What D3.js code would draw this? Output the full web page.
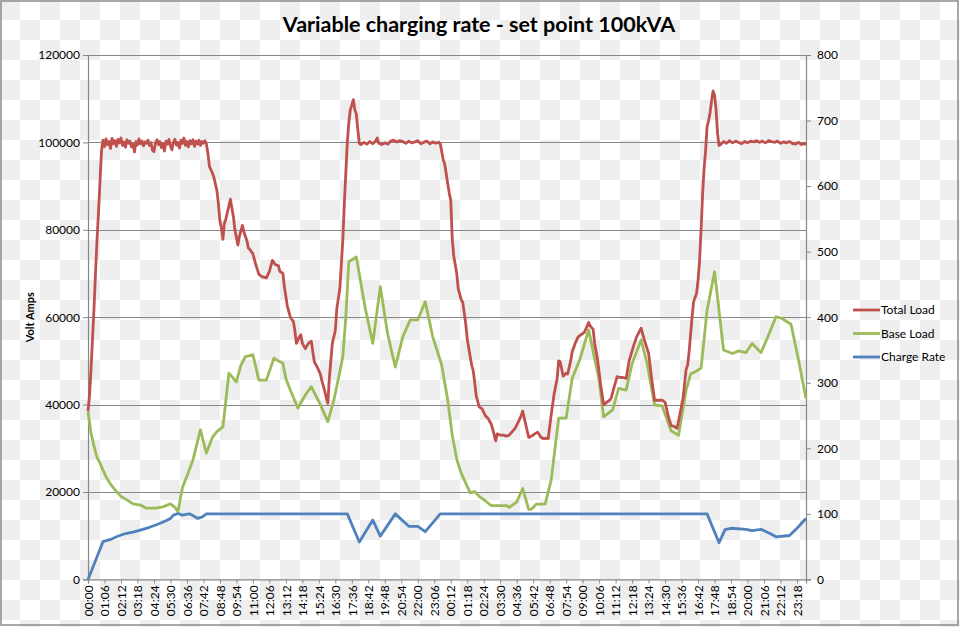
<!DOCTYPE html>
<html>
<head>
<meta charset="utf-8">
<script src="https://cdn.jsdelivr.net/npm/d3@7"></script>
<style>
html,body{margin:0;padding:0;background:#fff;}
svg{display:block;}
text{font-family:Lato, "Open Sans", sans-serif;fill:#000;}
</style>
</head>
<body>
<svg id="chart" width="960" height="627"></svg>
<script>
// ---------- DATA ----------
const title = "Variable charging rate - set point 100kVA";
const seriesNames = ["Total Load", "Base Load", "Charge Rate"];
const sampleCount = 480;           // 6-minute samples over two days
const tickEvery = 11;              // a label every 11 samples (66 min)
const tickLabels = ["00:00","01:06","02:12","03:18","04:24","05:30","06:36","07:42","08:48","09:54","11:00","12:06","13:12","14:18","15:24","16:30","17:36","18:42","19:48","20:54","22:00","23:06","00:12","01:18","02:24","03:30","04:36","05:42","06:48","07:54","09:00","10:06","11:12","12:18","13:24","14:30","15:36","16:42","17:48","18:54","20:00","21:06","22:12","23:18"];
const leftTicks = [0,20000,40000,60000,80000,100000,120000];
const rightTicks = [0,100,200,300,400,500,600,700,800];

// [sample index, value]
const totalLoad = [[0,38500],[1,42000],[2,48000],[3,55000],[4,62000],[5,70000],[6,77500],[7,84000],[8,91000],[9,98000],[10,100500],
[11,99000],[12,100800],[13,99500],[14,100200],[15,98600],[16,100900],[17,99700],[18,100400],[19,99100],[20,100700],[21,99900],[22,101000],[23,99300],[24,100100],[25,98900],[26,100600],[27,99800],[28,100300],[29,99000],[30,99600],[31,97800],[32,100200],[33,99400],[34,100800],[35,99700],[36,100300],[37,99200],[38,100100],[39,99800],[40,100500],[41,99300],[42,99900],[43,98200],[44,97900],[45,99800],[46,100600],[47,99500],[48,100200],[49,98800],[50,99700],[51,98000],[52,100300],[53,99600],[54,100700],[55,99200],[56,98300],[57,100100],[58,100700],[59,99400],[60,100000],[61,98700],[62,100500],[63,99800],[64,101000],[65,99300],[66,100200],[67,99000],[68,100400],[69,99700],[70,100600],[71,99100],[72,100300],[73,99600],[74,100500],[75,99300],[76,100200],[77,99800],[78,100400],[79,99600],
[80,97500],[81,94500],[83,93000],[84,92000],[86,89000],[87,86000],[88,82000],[89,80500],[90,77800],[91,81500],[92,82500],[93,84000],[95,87000],[96,85000],[97,83000],[98,80000],[100,76500],[101,78500],[103,81000],[104,79500],[106,77500],[107,75800],[108,75500],[110,74500],[112,72000],[114,69800],[116,69300],[119,69000],[121,70500],[123,73000],[125,72000],[127,71800],[128,70500],[130,70000],[131,67000],[133,62500],[135,60000],[137,59000],[138,57000],[139,54000],[141,55500],[142,56000],[143,54000],[145,52800],[147,54000],[149,54500],[150,52000],[151,49800],[153,48500],[155,47000],[156,45500],[158,43000],[159,41500],[160,40300],[161,46000],[162,50000],[163,54000],[165,57000],[166,62000],[168,66500],[170,77700],[171,86000],[172,93000],[173,100000],[174,104500],[175,107500],[176,108500],[177,109800],[178,107500],[179,106500],[180,103000],[181,99800],
[182,99500],[184,100000],[186,99600],[188,100200],[190,99700],[192,100400],[193,101000],[194,99800],[196,99500],[198,99900],[200,99600],[202,100300],[204,100500],[206,100100],[208,100400],[210,100200],[212,99800],[214,100300],[216,99900],[218,100100],[220,100400],[222,99700],[224,100000],[226,100300],[228,99700],[230,100100],[232,99800],[234,100000],[235,99700],
[237,96000],[238,95000],[240,90500],[241,88400],[242,86800],[243,78000],[244,74000],[246,70000],[247,66500],[249,64000],[250,63400],[251,61000],[252,58500],[253,55000],[255,50900],[256,49000],[257,47800],[258,45000],[259,42000],[261,39500],[263,39000],[265,37500],[267,36800],[269,35500],[270,34400],[271,33000],[272,31700],[273,33300],[275,33000],[277,33000],[279,32800],[281,33000],[283,33800],[285,34600],[287,36000],[289,37500],[290,38500],[292,35500],[294,32500],[296,32800],[298,33300],[300,33700],[302,32600],[304,32200],[306,32300],[307,32200],[309,37600],[311,42500],[313,46000],[314,50000],[315,49800],[317,46500],[319,47200],[320,47000],[322,50000],[323,52100],[325,54000],[327,55500],[329,56000],[331,56500],[332,57200],[334,58800],[335,58000],[337,57200],[338,54000],[340,50200],[342,44500],[344,40000],[346,40500],[348,41000],[349,41500],[351,44000],[353,46400],[355,46200],[357,46200],[359,46000],[361,50000],[364,53500],[366,55500],[369,57500],[371,55000],[374,51700],[376,46000],[378,41000],[380,41000],[383,41000],[385,40500],[387,37500],[389,35200],[391,35000],[393,34600],[395,38000],[397,41500],[399,48000],[400,49000],[401,52000],[403,60000],[404,63500],[406,65500],[407,68500],[408,73000],[409,80000],[410,88000],[411,94000],[412,98000],[413,103600],[414,105000],[415,106800],[416,109500],[417,111800],[418,110800],[419,107500],[420,102000],[421,99300],[422,99500],
[424,100200],[426,99800],[428,100400],[430,99900],[432,100300],[434,100000],[436,99700],[438,100200],[440,99900],[442,100300],[444,100100],[446,100400],[448,100000],[450,100300],[452,99900],[454,100400],[456,100200],[458,100000],[460,100300],[462,99800],[464,100100],[466,99900],[468,100200],[470,99700],[472,99600],[474,100000],[476,99500],[478,99800],[479,99400]];

const baseLoad = [[0,38400],[2,33500],[4,30500],[6,28000],[8,26600],[10,25000],[12,23500],[15,21800],[19,20100],[22,19000],[26,18200],[30,17300],[35,17000],[39,16300],[45,16300],[50,16600],[55,17300],[58,16500],[60,15500],[63,21000],[67,24500],[70,27300],[73,31500],[75,34200],[77,31500],[79,28900],[83,32500],[86,33800],[90,34900],[92,41000],[94,47200],[97,46000],[99,45200],[102,49000],[105,51000],[110,51400],[114,45600],[119,45600],[124,50600],[127,50000],[130,49500],[132,46000],[135,43300],[140,39200],[145,42200],[149,44100],[155,40000],[160,36100],[164,41000],[168,47500],[170,51000],[172,60000],[174,72700],[179,73800],[185,62000],[190,54000],[195,67000],[200,56000],[205,48600],[210,55500],[215,59400],[220,59400],[225,63500],[230,55500],[236,49000],[240,41000],[243,33000],[246,27500],[249,24300],[255,19800],[258,20100],[261,19000],[265,18000],[269,16900],[279,16900],[281,16500],[286,17700],[290,20800],[294,16000],[296,16100],[299,17200],[305,17300],[309,22700],[314,36900],[319,36900],[323,46000],[328,50200],[334,57100],[341,45600],[344,37200],[350,38800],[354,43700],[359,43300],[363,49400],[369,54800],[373,49400],[378,39900],[383,39700],[389,34000],[394,33000],[399,43300],[402,47000],[405,47500],[409,48300],[413,61600],[418,70400],[424,52500],[430,51700],[434,52300],[439,51900],[443,54000],[449,51900],[454,55900],[459,60100],[463,59700],[469,58400],[474,50200],[479,41400]];

const chargeRate = [[0,0],[10,57.5],[15,61],[19,65],[25,70],[30,72],[36,76],[41,79.5],[47,84.5],[52,89.5],[55,93],[57,98],[60,100.5],[63,98],[66,99.5],[68,100],[71,96],[73,93],[76,95],[79,100],[173,100],[181,57],[190,90.5],[195,66],[205,100],[214,81],[220,81],[225,72.8],[235,100],[413,100],[421,56],[425,76],[429,78],[439,76.4],[443,74.3],[449,76.4],[455,70],[459,65],[468,67],[473,78],[479,93]];

// ---------- DRAW ----------
const svg = d3.select("#chart");
const W = 960, H = 627;
const plot = {left: 88, right: 806, top: 55, bottom: 579.4};
const colors = {"Total Load":"#C0504D","Base Load":"#9BBB59","Charge Rate":"#4F81BD"};

// checkered background
const defs = svg.append("defs");
const pat = defs.append("pattern").attr("id","checker").attr("width",40).attr("height",40).attr("patternUnits","userSpaceOnUse");
pat.append("rect").attr("width",40).attr("height",40).attr("fill","#ffffff");
pat.append("rect").attr("x",0).attr("y",0).attr("width",20).attr("height",20).attr("fill","#eeeeee");
pat.append("rect").attr("x",20).attr("y",20).attr("width",20).attr("height",20).attr("fill","#eeeeee");
svg.append("rect").attr("width",W).attr("height",H).attr("fill","url(#checker)");
svg.append("rect").attr("x",1).attr("y",1).attr("width",957).attr("height",624)
  .attr("fill","none").attr("stroke","#8a8a8a").attr("stroke-width",1.5);

const x = d3.scaleLinear().domain([0, sampleCount-1]).range([plot.left, plot.right]);
const yL = d3.scaleLinear().domain([0,120000]).range([plot.bottom, plot.top]);
const yR = d3.scaleLinear().domain([0,800]).range([plot.bottom, plot.top]);

// gridlines
svg.append("g").selectAll("line").data(leftTicks.filter(d=>d>0)).join("line")
  .attr("x1",plot.left).attr("x2",plot.right)
  .attr("y1",d=>Math.round(yL(d))+0.5).attr("y2",d=>Math.round(yL(d))+0.5)
  .attr("stroke","#878787").attr("stroke-width",1);

// axes
const tickIdx = tickLabels.map((t,i)=>i*tickEvery);
const gL = svg.append("g").attr("transform",`translate(${plot.left},0)`)
  .call(d3.axisLeft(yL).tickValues(leftTicks).tickFormat(d3.format("d")).tickSize(5).tickPadding(3));
const gR = svg.append("g").attr("transform",`translate(${plot.right},0)`)
  .call(d3.axisRight(yR).tickValues(rightTicks).tickFormat(d3.format("d")).tickSize(5).tickPadding(6));
const gB = svg.append("g").attr("transform",`translate(0,${plot.bottom})`)
  .call(d3.axisBottom(x).tickValues(tickIdx).tickFormat((d,i)=>tickLabels[i]).tickSize(4).tickPadding(3));
[gL,gR,gB].forEach(g=>{
  g.select(".domain").attr("stroke","#878787").attr("stroke-width",1.2);
  g.selectAll(".tick line").attr("stroke","#878787");
  g.selectAll("text").style("font-family","Lato, 'Open Sans', sans-serif").style("font-size","12px").attr("fill","#000");
});
gB.selectAll("text").attr("transform","rotate(-90)").attr("text-anchor","end")
  .attr("x",-6).attr("y",0).attr("dy","0.35em");

// lines
const lineL = d3.line().x(d=>x(d[0])).y(d=>yL(d[1]));
const lineR = d3.line().x(d=>x(d[0])).y(d=>yR(d[1]));
svg.append("path").datum(baseLoad).attr("d",lineL).attr("fill","none")
  .attr("stroke",colors["Base Load"]).attr("stroke-width",2.8).attr("stroke-linejoin","round");
svg.append("path").datum(totalLoad).attr("d",lineL).attr("fill","none")
  .attr("stroke",colors["Total Load"]).attr("stroke-width",2.8).attr("stroke-linejoin","round");
svg.append("path").datum(chargeRate).attr("d",lineR).attr("fill","none")
  .attr("stroke",colors["Charge Rate"]).attr("stroke-width",2.8).attr("stroke-linejoin","round");

// title
svg.append("text").attr("x",479).attr("y",32).attr("text-anchor","middle")
  .style("font-size","21.5px").style("font-weight","bold").text(title);

// y axis title
svg.append("text").attr("transform",`translate(34,${(plot.top+plot.bottom)/2}) rotate(-90)`)
  .attr("text-anchor","middle").style("font-size","11px").style("font-weight","bold").text("Volt Amps");

// legend
const leg = svg.append("g").attr("transform","translate(853,310)");
seriesNames.forEach((n,i)=>{
  const g = leg.append("g").attr("transform",`translate(0,${i*23.5})`);
  g.append("line").attr("x1",0).attr("x2",27).attr("y1",0).attr("y2",0)
    .attr("stroke",colors[n]).attr("stroke-width",2.8);
  g.append("text").attr("x",28).attr("y",0).attr("dy","0.35em").style("font-size","12px").text(n);
});
</script>
</body>
</html>
